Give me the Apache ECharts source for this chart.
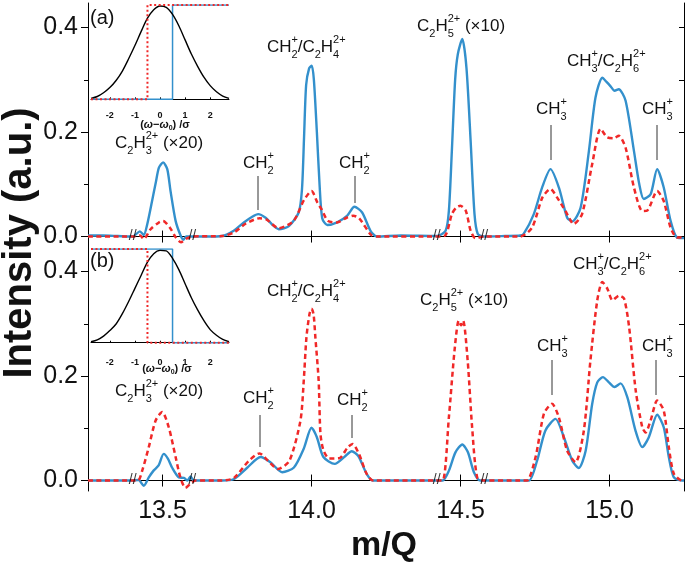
<!DOCTYPE html>
<html><head><meta charset="utf-8">
<script src="https://cdn.jsdelivr.net/npm/echarts@6/dist/echarts.min.js"></script>
<style>html,body{margin:0;padding:0;background:#fff}#c{width:685px;height:565px}</style>
</head><body><div id="c"></div><script>
// ---------------- data ----------------
const xTicks = [13.5, 14.0, 14.5, 15.0];
const yTicks = [0.0, 0.2, 0.4];
const yMinorTicks = [0.1, 0.3];
const yRightTicks = [0.0, 0.1, 0.2, 0.3, 0.4];
const breakX = [13.40, 13.60, 14.42, 14.58];

// panel (a)
const aBlue = [[13.25,0.002],[13.30,0.002],[13.35,0.001],[13.40,0.0],[13.424,0.01],[13.437,0.003],[13.449,0.024],[13.465,0.068],[13.478,0.105],[13.488,0.132],[13.502,0.142],[13.516,0.129],[13.527,0.087],[13.544,0.030],[13.56,0.003],[13.57,-0.006],[13.58,0.0],[13.594,0.0],[13.65,0.0],[13.70,0.001],[13.739,0.011],[13.773,0.027],[13.801,0.038],[13.821,0.043],[13.846,0.036],[13.87,0.022],[13.89,0.014],[13.924,0.020],[13.957,0.046],[13.968,0.09],[13.975,0.19],[13.982,0.29],[13.992,0.322],[14.001,0.327],[14.008,0.30],[14.018,0.20],[14.027,0.10],[14.036,0.035],[14.053,0.022],[14.086,0.027],[14.12,0.040],[14.144,0.057],[14.17,0.046],[14.198,0.011],[14.22,0.0],[14.30,0.002],[14.42,0.001],[14.45,0.011],[14.461,0.049],[14.471,0.164],[14.482,0.30],[14.491,0.349],[14.506,0.378],[14.52,0.323],[14.534,0.183],[14.547,0.043],[14.558,0.005],[14.58,0.0],[14.65,0.001],[14.70,0.002],[14.712,0.005],[14.746,0.043],[14.774,0.094],[14.802,0.129],[14.83,0.094],[14.858,0.036],[14.875,0.029],[14.903,0.055],[14.931,0.164],[14.953,0.266],[14.976,0.304],[14.99,0.296],[15.003,0.288],[15.017,0.279],[15.031,0.282],[15.054,0.26],[15.082,0.164],[15.10,0.10],[15.115,0.072],[15.138,0.081],[15.16,0.129],[15.182,0.094],[15.205,0.030],[15.227,-0.002],[15.25,-0.003]];
const aRed = [[13.25,0.0],[13.40,0.0],[13.425,0.002],[13.437,-0.005],[13.46,0.014],[13.488,0.027],[13.502,0.030],[13.525,0.017],[13.545,-0.002],[13.562,-0.011],[13.58,-0.004],[13.60,0.0],[13.70,0.001],[13.74,0.008],[13.78,0.025],[13.826,0.035],[13.848,0.033],[13.89,0.016],[13.94,0.030],[13.975,0.07],[14.0,0.087],[14.02,0.065],[14.034,0.052],[14.055,0.030],[14.086,0.027],[14.118,0.036],[14.14,0.040],[14.16,0.035],[14.2,0.003],[14.22,0.0],[14.42,0.0],[14.45,0.003],[14.471,0.043],[14.485,0.055],[14.5,0.059],[14.518,0.049],[14.534,0.011],[14.55,-0.003],[14.58,0.0],[14.70,0.0],[14.74,0.017],[14.775,0.075],[14.802,0.091],[14.824,0.075],[14.852,0.049],[14.88,0.024],[14.908,0.043],[14.942,0.139],[14.97,0.206],[14.992,0.19],[15.014,0.188],[15.031,0.193],[15.054,0.170],[15.082,0.094],[15.11,0.049],[15.127,0.05],[15.16,0.087],[15.182,0.068],[15.205,0.017],[15.227,-0.002],[15.25,-0.002]];

// panel (b)
const bBlue = [[13.25,0.0],[13.393,0.0],[13.42,0.001],[13.437,-0.01],[13.454,0.006],[13.47,0.019],[13.487,0.029],[13.504,0.051],[13.518,0.042],[13.532,0.025],[13.555,0.006],[13.572,0.005],[13.584,0.0],[13.594,0.008],[13.605,0.0],[13.70,0.0],[13.74,0.003],[13.785,0.025],[13.829,0.045],[13.862,0.035],[13.902,0.016],[13.941,0.025],[13.974,0.061],[14.0,0.101],[14.018,0.083],[14.04,0.045],[14.078,0.032],[14.112,0.046],[14.135,0.056],[14.157,0.047],[14.185,0.013],[14.207,0.0],[14.415,0.0],[14.44,0.0],[14.461,0.019],[14.483,0.054],[14.506,0.069],[14.525,0.054],[14.545,0.016],[14.567,0.0],[14.70,0.0],[14.73,0.0],[14.757,0.038],[14.785,0.096],[14.819,0.118],[14.847,0.083],[14.875,0.038],[14.897,0.024],[14.92,0.057],[14.942,0.147],[14.959,0.188],[14.978,0.198],[14.998,0.188],[15.017,0.179],[15.037,0.186],[15.06,0.159],[15.087,0.096],[15.11,0.064],[15.132,0.083],[15.16,0.126],[15.182,0.102],[15.199,0.045],[15.216,0.006],[15.244,0.0],[15.25,0.0]];
const bRed = [[13.25,0.0],[13.395,0.0],[13.418,0.0],[13.432,0.019],[13.454,0.064],[13.477,0.115],[13.499,0.131],[13.521,0.102],[13.544,0.045],[13.56,0.006],[13.577,-0.014],[13.594,-0.006],[13.61,0.0],[13.70,0.0],[13.74,0.005],[13.79,0.038],[13.826,0.052],[13.854,0.038],[13.887,0.022],[13.926,0.038],[13.963,0.115],[13.974,0.191],[13.983,0.274],[13.993,0.318],[14.0,0.329],[14.007,0.318],[14.013,0.274],[14.024,0.191],[14.03,0.09],[14.04,0.058],[14.06,0.042],[14.094,0.043],[14.122,0.064],[14.138,0.070],[14.16,0.05],[14.185,0.013],[14.207,0.0],[14.415,0.0],[14.44,0.0],[14.461,0.121],[14.48,0.249],[14.494,0.306],[14.502,0.297],[14.509,0.306],[14.524,0.230],[14.539,0.102],[14.556,0.006],[14.58,0.0],[14.70,0.0],[14.723,0.0],[14.752,0.045],[14.78,0.128],[14.807,0.147],[14.83,0.121],[14.858,0.057],[14.886,0.035],[14.914,0.096],[14.936,0.230],[14.959,0.345],[14.976,0.380],[14.993,0.367],[15.01,0.345],[15.032,0.354],[15.049,0.348],[15.066,0.293],[15.088,0.172],[15.11,0.102],[15.121,0.092],[15.138,0.115],[15.16,0.153],[15.182,0.134],[15.199,0.064],[15.216,0.013],[15.244,0.0],[15.25,0.0]];

// insets: spectral profile vs (w-w0)/sigma
const insetX = [-2.75,-2.5,-2.25,-2,-1.75,-1.5,-1.25,-1,-0.75,-0.5,-0.25,0,0.25,0.5,0.75,1,1.25,1.5,1.75,2,2.25,2.5,2.75];
const pulseA = [0.01,0.03,0.07,0.125,0.2,0.3,0.43,0.57,0.72,0.86,0.95,0.99,0.975,0.9,0.78,0.63,0.48,0.35,0.235,0.145,0.08,0.035,0.01];
const pulseB = [0.01,0.03,0.07,0.13,0.2,0.31,0.44,0.58,0.72,0.86,0.95,0.985,0.98,0.9,0.78,0.63,0.48,0.35,0.235,0.14,0.08,0.035,0.01];
const insetTicks = [-2,-1,0,1,2];
const stepRedA = [[-2.75,0],[-0.5,0],[-0.5,1],[2.75,1]];
const stepBlueA = [[-2.75,0],[0.5,0],[0.5,1],[2.75,1]];
const stepRedB = [[-2.75,1],[-0.5,1],[-0.5,0],[2.75,0]];
const stepBlueB = [[-2.75,1],[0.5,1],[0.5,0],[2.75,0]];

// ---------------- chart ----------------
const FONT = '"Liberation Sans", Arial, Helvetica, sans-serif';
const BLUE = '#3390cc', RED = '#f02828', INK = '#111';
const chart = echarts.init(document.getElementById('c'), null, {renderer: 'canvas'});

const rich = {
  sup:  {fontSize: 11, fontFamily: FONT, lineHeight: 12, verticalAlign: 'top', fill: INK},
  supz: {fontSize: 11, fontFamily: FONT, lineHeight: 12, verticalAlign: 'top', width: 0, fill: INK},
  sub:  {fontSize: 11, fontFamily: FONT, lineHeight: 12, verticalAlign: 'bottom', fill: INK},
  subz: {fontSize: 11, fontFamily: FONT, lineHeight: 12, verticalAlign: 'bottom', width: 0, fill: INK}
};
function lab(text, x, y) {
  return {type: 'text', x: x, y: y, z: 20, silent: true,
    style: {text: text, rich: rich, fontSize: 17, fontFamily: FONT, lineHeight: 26, fill: INK, align: 'left', verticalAlign: 'middle'}};
}
function vline(x, y1, y2) {
  return {type: 'line', z: 20, silent: true, shape: {x1: x, y1: y1, x2: x, y2: y2}, style: {stroke: '#333', lineWidth: 1}};
}
const T_C2H3 = 'C{sub|2}H{subz|3}{sup|2+} (×20)';
const T_CH2 = 'CH{supz|+}{sub|2}';
const T_CH2C2H4 = 'CH{supz|+}{sub|2}/C{sub|2}H{subz|4}{sup|2+}';
const T_C2H5 = 'C{sub|2}H{subz|5}{sup|2+} (×10)';
const T_CH3 = 'CH{supz|+}{sub|3}';
const T_CH3C2H6 = 'CH{supz|+}{sub|3}/C{sub|2}H{subz|6}{sup|2+}';

const richInset = {
  it: {fontSize: 11, fontFamily: FONT, fontStyle: 'italic', fontWeight: 'bold', fill: INK},
  s0: {fontSize: 7, fontFamily: FONT, fontWeight: 'bold', verticalAlign: 'bottom', lineHeight: 8, fill: INK}
};
function insetTitle(x, y) {
  return {type: 'text', x: x, y: y, z: 20, silent: true,
    style: {text: '({it|ω}−{it|ω}{s0|0}) /σ', rich: richInset, fontSize: 11, fontWeight: 'bold', fontFamily: FONT, lineHeight: 13, fill: INK, align: 'center', verticalAlign: 'middle'}};
}

const axLine = {show: true, lineStyle: {color: '#000', width: 1}};
function mainX(grid, pos, labels) {
  return {type: 'value', gridIndex: grid, position: pos, min: 13.25, max: 15.25,
    axisLine: axLine,
    axisTick: {show: true, inside: true, length: 6, customValues: xTicks, lineStyle: {color: '#000'}},
    axisLabel: labels ? {show: true, customValues: xTicks, formatter: v => v.toFixed(1), fontSize: 25, fontFamily: FONT, color: INK, margin: 8} : {show: false},
    splitLine: {show: false}};
}
function mainY(grid) {
  return [
    {type: 'value', gridIndex: grid, position: 'left', min: -0.02, max: 0.447,
      axisLine: axLine,
      axisTick: {show: true, inside: false, length: 7, customValues: yTicks, lineStyle: {color: '#000'}},
      axisLabel: {show: true, customValues: yTicks, formatter: v => v.toFixed(1), fontSize: 25, fontFamily: FONT, color: INK, margin: 10},
      splitLine: {show: false}},
    {type: 'value', gridIndex: grid, position: 'left', min: -0.02, max: 0.447,
      axisLine: {show: false},
      axisTick: {show: true, inside: false, length: 4, customValues: yMinorTicks, lineStyle: {color: '#000'}},
      axisLabel: {show: false}, splitLine: {show: false}},
    {type: 'value', gridIndex: grid, position: 'right', min: -0.02, max: 0.447,
      axisLine: axLine,
      axisTick: {show: true, inside: true, length: 5, customValues: yRightTicks, lineStyle: {color: '#000'}},
      axisLabel: {show: false}, splitLine: {show: false}}
  ];
}
function insetX_(grid) {
  return {type: 'value', gridIndex: grid, position: 'bottom', min: -2.75, max: 2.75,
    axisLine: {show: true, lineStyle: {color: '#000', width: 1}},
    axisTick: {show: true, inside: true, length: 2, customValues: insetTicks, lineStyle: {color: '#000'}},
    axisLabel: {show: true, customValues: insetTicks, fontSize: 9, fontWeight: 'bold', fontFamily: FONT, color: INK, margin: 3},
    splitLine: {show: false}};
}
function insetY_(grid, min) {
  return {type: 'value', gridIndex: grid, min: min, max: 1.0, show: false, splitLine: {show: false}};
}

function mainLine(data, xi, yi, dashed) {
  return {type: 'line', xAxisIndex: xi, yAxisIndex: yi, data: data, showSymbol: false, symbol: 'none',
    smooth: 0.25, animation: false, silent: true, z: dashed ? 4 : 3,
    lineStyle: dashed ? {color: RED, width: 2.5, type: [5, 3.5]} : {color: BLUE, width: 2.4}};
}
function breaks(xi, yi) {
  return {type: 'scatter', xAxisIndex: xi, yAxisIndex: yi, data: breakX.map(x => [x, 0]),
    symbol: 'rect', symbolSize: 1, itemStyle: {color: 'rgba(0,0,0,0)'}, silent: true, z: 6, animation: false,
    label: {show: true, position: 'inside', formatter: '//', color: '#000', fontSize: 14, fontFamily: FONT}};
}
function insetSeries(xi, yi, pulse, stepBlue, stepRed) {
  return [
    {type: 'line', xAxisIndex: xi, yAxisIndex: yi, data: stepBlue, symbol: 'none', animation: false, silent: true, z: 7,
      lineStyle: {color: BLUE, width: 1.5}},
    {type: 'line', xAxisIndex: xi, yAxisIndex: yi, data: insetX.map((x, i) => [x, pulse[i]]), symbol: 'none', smooth: 0.3, animation: false, silent: true, z: 7,
      lineStyle: {color: '#000', width: 1.4}},
    {type: 'line', xAxisIndex: xi, yAxisIndex: yi, data: stepRed, symbol: 'none', animation: false, silent: true, z: 8,
      lineStyle: {color: RED, width: 2, type: [2, 2.5]}}
  ];
}

const yAx = [].concat(mainY(0), mainY(1), [insetY_(2, -0.095), insetY_(3, -0.131)]);
const option = {
  animation: false,
  backgroundColor: '#fff',
  grid: [
    {left: 88, top: 3, width: 596, height: 244},
    {left: 88, top: 247, width: 596, height: 244},
    {left: 91, top: 5, width: 138, height: 103.3},
    {left: 91, top: 249, width: 138, height: 106}
  ],
  xAxis: [mainX(0, 'bottom', false), mainX(0, 'top', false), mainX(1, 'bottom', true), mainX(1, 'top', false), insetX_(2), insetX_(3)],
  yAxis: yAx,
  series: [].concat(
    [mainLine(aBlue, 0, 0, false), mainLine(aRed, 0, 0, true), breaks(0, 0),
     mainLine(bBlue, 2, 3, false), mainLine(bRed, 2, 3, true), breaks(2, 3)],
    insetSeries(4, 6, pulseA, stepBlueA, stepRedA),
    insetSeries(5, 7, pulseB, stepBlueB, stepRedB)
  ),
  graphic: [
    {type: 'text', x: 90, y: 18, z: 20, silent: true, style: {text: '(a)', fontSize: 20, fontFamily: FONT, fill: INK, align: 'left', verticalAlign: 'middle'}},
    {type: 'text', x: 90, y: 261, z: 20, silent: true, style: {text: '(b)', fontSize: 20, fontFamily: FONT, fill: INK, align: 'left', verticalAlign: 'middle'}},
    insetTitle(165, 125), insetTitle(167, 369),
    // panel a labels
    lab(T_C2H3, 115, 143), lab(T_CH2, 243, 163), vline(258, 176, 210),
    lab(T_CH2C2H4, 267, 47), lab(T_CH2, 339, 163), vline(355, 176, 203),
    lab(T_C2H5, 417, 26), lab(T_CH3, 536, 109), vline(551, 125, 160),
    lab(T_CH3C2H6, 567, 61), lab(T_CH3, 642, 109), vline(657, 125, 160),
    // panel b labels
    lab(T_C2H3, 115, 391), lab(T_CH2, 243, 398), vline(260, 415, 447),
    lab(T_CH2C2H4, 267, 291), lab(T_CH2, 337, 400), vline(352, 415, 438),
    lab(T_C2H5, 420, 300), lab(T_CH3, 537, 346), vline(552, 360, 395),
    lab(T_CH3C2H6, 573, 264), lab(T_CH3, 642, 346), vline(656, 360, 395),
    // axis titles
    {type: 'text', x: 20, y: 243, rotation: Math.PI / 2, z: 20, silent: true,
      style: {text: 'Intensity (a.u.)', fontSize: 40, fontWeight: 'bold', fontFamily: FONT, fill: INK, align: 'center', verticalAlign: 'middle'}},
    {type: 'text', x: 384, y: 546, z: 20, silent: true,
      style: {text: 'm/Q', fontSize: 34, fontWeight: 'bold', fontFamily: FONT, fill: INK, align: 'center', verticalAlign: 'middle'}}
  ]
};
chart.setOption(option);
</script></body></html>
